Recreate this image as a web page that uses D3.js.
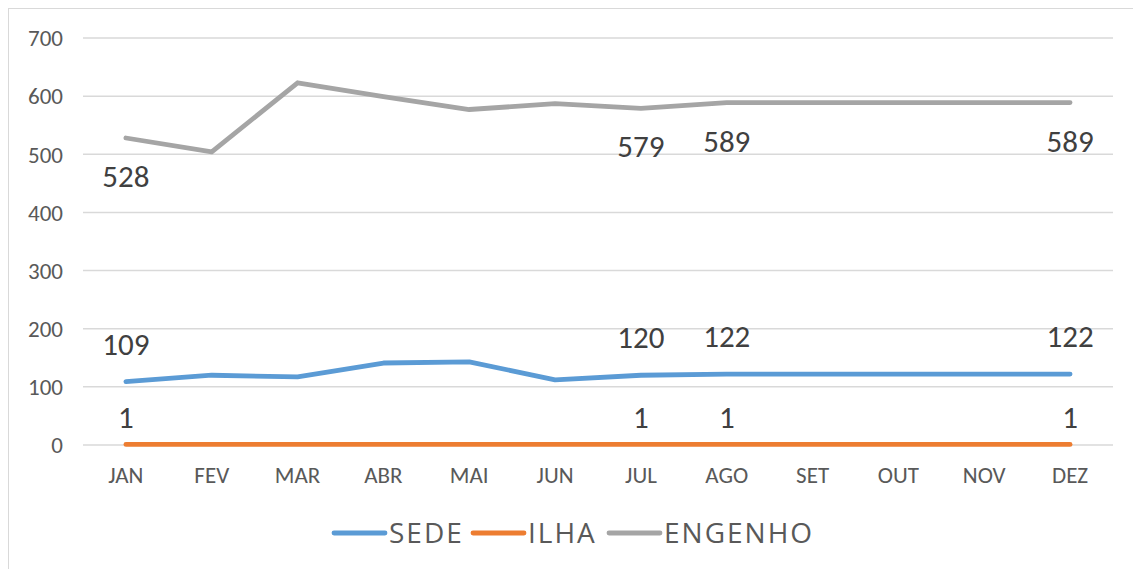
<!DOCTYPE html>
<html><head><meta charset="utf-8">
<script src="https://cdn.jsdelivr.net/npm/d3@7"></script>
<style>body{margin:0;background:#fff}svg{display:block;font-family:Calibri,Carlito,"Liberation Sans",Arial,sans-serif}</style>
</head><body><svg id="c" width="1133" height="569"></svg>
<script>
const months = ["JAN","FEV","MAR","ABR","MAI","JUN","JUL","AGO","SET","OUT","NOV","DEZ"];
const sede = [109,120,117,141,143,112,120,122,122,122,122,122];
const ilha = [1,1,1,1,1,1,1,1,1,1,1,1];
const engenho = [528,504,623,599,577,587,579,589,589,589,589,589];
const yTicks = [0,100,200,300,400,500,600,700];
const labelIdx = [0,6,7,11];
const seriesNames = ["SEDE","ILHA","ENGENHO"];
const colors = ["#5B9BD5","#ED7D31","#A5A5A5"];
const FONT = "Calibri,Carlito,'Liberation Sans',Arial,sans-serif";

const svg = d3.select("#c");
svg.append("rect").attr("x",8.5).attr("y",8.5).attr("width",1140).attr("height",580)
  .attr("fill","none").attr("stroke","#D9D9D9").attr("stroke-width",1);

const x = d3.scaleBand().domain(months).range([83,1113]);
const y = d3.scaleLinear().domain([0,700]).range([445,38]);
const cx = m => x(m) + x.bandwidth()/2;

const g = svg.append("g");
g.selectAll("line.grid").data(yTicks).join("line")
  .attr("x1",83).attr("x2",1113).attr("y1",d=>y(d)).attr("y2",d=>y(d))
  .attr("stroke","#D9D9D9").attr("stroke-width",1.5);

const yAxis = d3.axisLeft(y).tickValues(yTicks).tickSize(0).tickPadding(0);
svg.append("g").attr("transform","translate(63,0)").call(yAxis)
  .call(a=>a.select(".domain").remove())
  .selectAll("text").attr("font-size",23).attr("fill","#595959").attr("dy","0.34em")
  .attr("font-family",FONT);

const xAxis = d3.axisBottom(x).tickSize(0).tickPadding(0);
svg.append("g").call(xAxis)
  .call(a=>a.select(".domain").remove())
  .selectAll("text").attr("font-size",23).attr("fill","#595959")
  .attr("y",483).attr("dy",0)
  .attr("font-family",FONT);

const line = d3.line().x((d,i)=>cx(months[i])).y(d=>y(d));
const data = [sede, ilha, engenho];
data.forEach((s,k)=>{
  g.append("path").datum(s).attr("d",line).attr("fill","none")
    .attr("stroke",colors[k]).attr("stroke-width",4.8).attr("stroke-linecap","round").attr("stroke-linejoin","round");
});

// data labels
const offsets = [-27, -16.5, 49];
data.forEach((s,k)=>{
  g.selectAll(null).data(labelIdx).join("text")
    .attr("x",i=>cx(months[i])).attr("y",i=>y(s[i])+offsets[k])
    .attr("text-anchor","middle").attr("font-size",31).attr("fill","#404040")
    .text(i=>s[i]);
});

// legend
const legX = [334,473,609];
seriesNames.forEach((n,k)=>{
  svg.append("line").attr("x1",legX[k]).attr("x2",legX[k]+51).attr("y1",533).attr("y2",533)
    .attr("stroke",colors[k]).attr("stroke-width",4.8).attr("stroke-linecap","round");
  svg.append("text").attr("x",legX[k]+55).attr("y",543)
    .style("font-family","'Open Sans','Noto Sans',sans-serif").style("font-size","28px")
    .style("letter-spacing","2px")
    .attr("fill","#595959").text(n);
});
</script></body></html>
